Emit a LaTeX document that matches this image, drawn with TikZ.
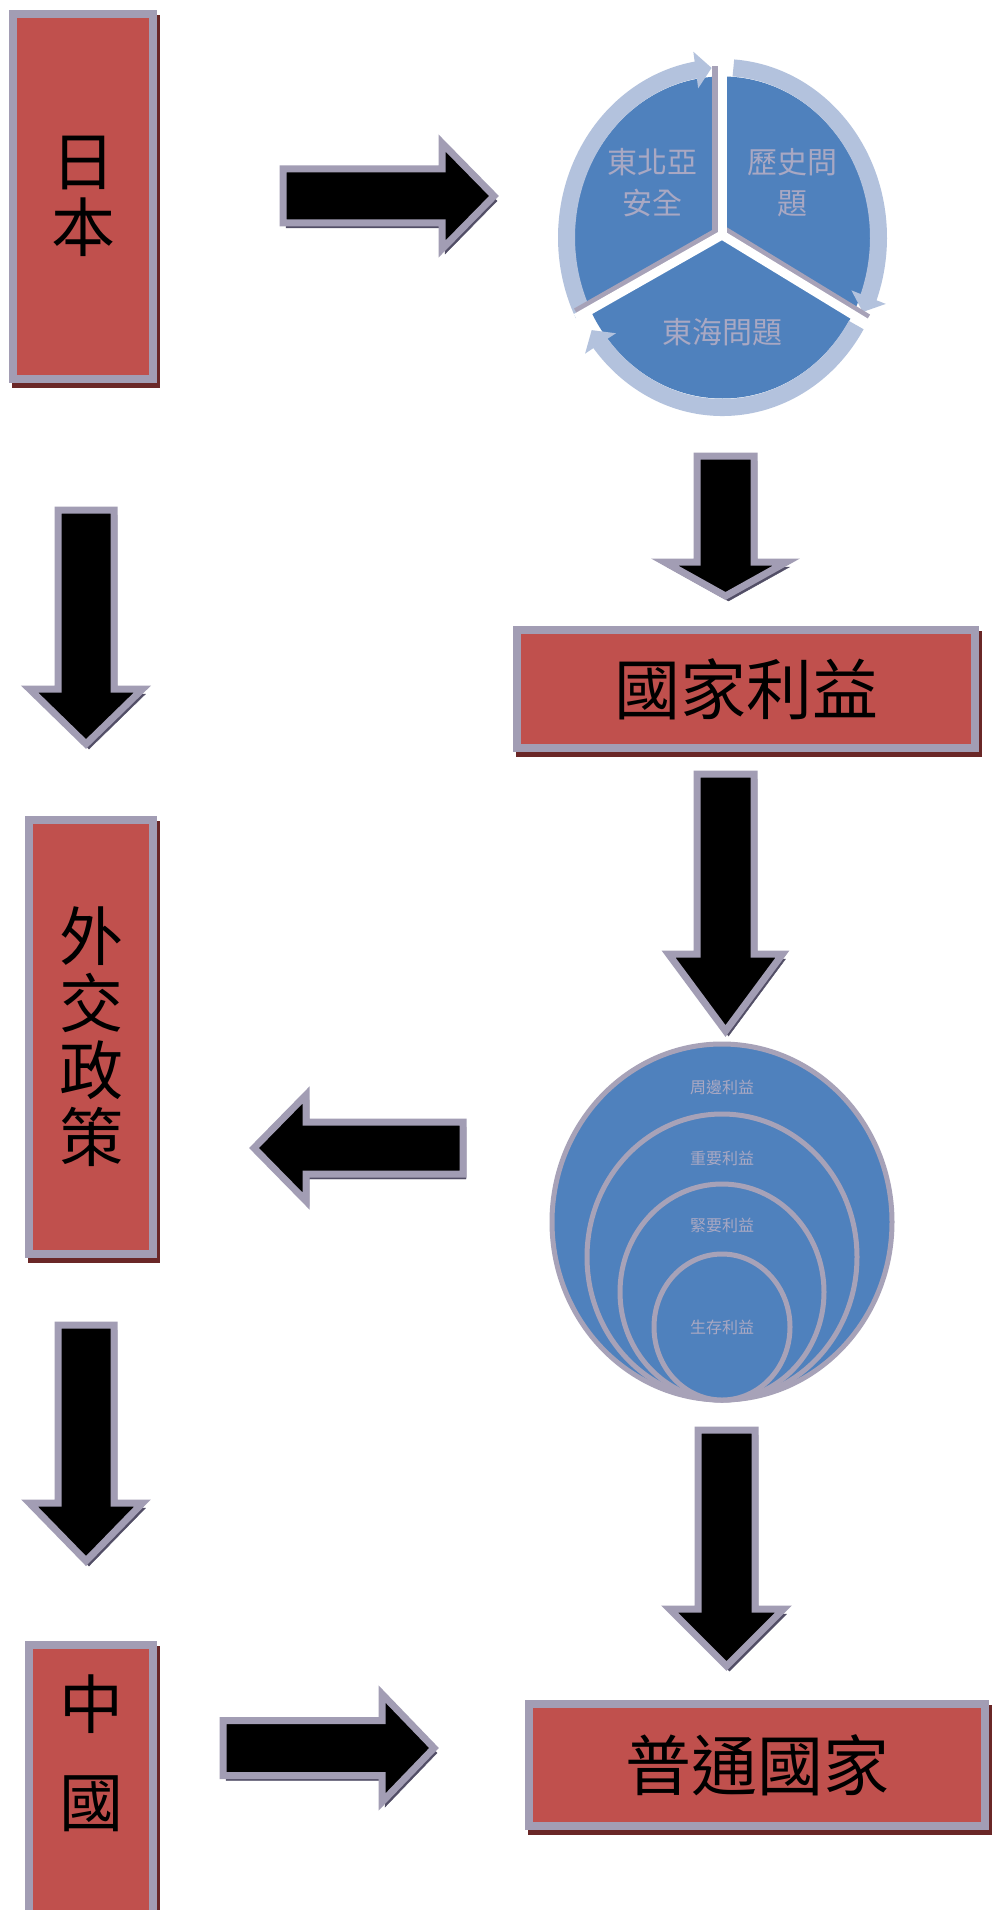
\documentclass[tikz,border=0pt]{standalone}
\usepackage{fontspec}
\newfontfamily\cjk{Noto Sans CJK TC}
\usetikzlibrary{arrows.meta,bending}
\definecolor{boxred}{HTML}{C0504D}
\definecolor{boxline}{HTML}{A29DB4}
\definecolor{redshadow}{HTML}{6A2727}
\definecolor{arrowshadow}{HTML}{524E66}
\definecolor{pieblue}{HTML}{4F81BD}
\definecolor{ringblue}{HTML}{B3C2DD}
\definecolor{pietext}{HTML}{A9A8C3}
\definecolor{divgray}{HTML}{A7A2B8}
% right-pointing block arrow: xL, xBase, xTip, yc, shaft half, head half (outer edges)
\newcommand\RArrowShape[6]{%
  \path[blockarrow] ({#1+4},{#4-#5+4}) -- ({#2+4},{#4-#5+4}) -- ({#2+4},{#4-#6+9}) -- ({#3-6},{#4})
    -- ({#2+4},{#4+#6-9}) -- ({#2+4},{#4+#5-4}) -- ({#1+4},{#4+#5-4}) -- cycle;}
\newcommand\LArrowShape[6]{%
  \path[blockarrow] ({#1-4},{#4-#5+4}) -- ({#2-4},{#4-#5+4}) -- ({#2-4},{#4-#6+9}) -- ({#3+6},{#4})
    -- ({#2-4},{#4+#6-9}) -- ({#2-4},{#4+#5-4}) -- ({#1-4},{#4+#5-4}) -- cycle;}
% down block arrow: xc, shaft half, ytop, ybase, ytip, head half
\newcommand\DArrowShape[6]{%
  \path[blockarrow] ({#1-#2+4},{#3+4}) -- ({#1+#2-4},{#3+4}) -- ({#1+#2-4},{#4+4}) -- ({#1+#6-9},{#4+4})
    -- ({#1},{#5-6}) -- ({#1-#6+9},{#4+4}) -- ({#1-#2+4},{#4+4}) -- cycle;}
\begin{document}
\begin{tikzpicture}[x=1pt,y=-1pt,
  redbox/.style={draw=boxline, fill=boxred, line width=8pt, inner sep=0pt, align=center,
    font=\cjk, text=black,
    preaction={draw=redshadow, fill=redshadow, transform canvas={xshift=3pt,yshift=-5pt}}},
  blockarrow/.style={draw=boxline, fill=black, line width=7pt, line join=miter,
    preaction={draw=arrowshadow, fill=arrowshadow, transform canvas={xshift=3pt,yshift=-5pt}}},
  ring/.style={draw=ringblue, line width=17pt, -{Triangle[width=36pt,length=16pt]}},
  pielabel/.style={font=\cjk\fontsize{30}{41}\selectfont, text=pietext, align=center, inner sep=0pt},
  circlabel/.style={font=\cjk\fontsize{16}{18}\selectfont, text=pietext, inner sep=0pt},
  level/.style={draw=divgray, fill=pieblue, line width=5pt}]
\useasboundingbox (0,0) rectangle (993,1910);
\fill[white] (0,0) rectangle (993,1910);

% ---- red boxes ----
\node[redbox, minimum width=140pt, minimum height=365pt, font=\cjk\fontsize{64}{66}\selectfont]
  (japan) at (83,196.5) {日\\本};
\node[redbox, minimum width=124pt, minimum height=434pt, font=\cjk\fontsize{64}{67}\selectfont]
  (policy) at (91,1037) {外\\交\\政\\策};
\node[redbox, minimum width=124pt, minimum height=290pt] (china) at (91,1790) {};
\node[font=\cjk\fontsize{64}{98}\selectfont, align=center, inner sep=0pt] (chinatext) at (91,1753) {中\\國};
\node[redbox, minimum width=458pt, minimum height=118pt, font=\cjk\fontsize{66}{70}\selectfont]
  (interest) at (746,689) {國家利益};
\node[redbox, minimum width=456pt, minimum height=122pt, font=\cjk\fontsize{66}{70}\selectfont]
  (normal) at (757,1765) {普通國家};

% ---- block arrows ----
\RArrowShape{279}{438}{500}{196}{31}{62}
\RArrowShape{219}{378}{440}{1748}{31.5}{63}
\LArrowShape{467}{310}{248}{1148}{30}{62}
\DArrowShape{725.5}{32.5}{452}{558}{602}{70}
\DArrowShape{725.5}{32.5}{770}{950}{1037}{66}
\DArrowShape{726.5}{32.5}{1426}{1605}{1672}{66}
\DArrowShape{86}{32}{506}{685}{750}{65.5}
\DArrowShape{86}{32}{1321}{1499}{1567}{65.5}

% ---- cycle diagram ----
\fill[pieblue] (722.5,237.5) ellipse [x radius=148, y radius=161];
\draw[ring] (722.5,237.5) ++(153:156 and 170) arc[start angle=153, end angle=266, x radius=156, y radius=170];
\draw[ring] (722.5,237.5) ++(-86:156 and 170) arc[start angle=-86, end angle=26, x radius=156, y radius=170];
\draw[ring] (722.5,237.5) ++(31:156 and 170) arc[start angle=31, end angle=147, x radius=156, y radius=170];
\coordinate (pc) at (722,235);
\coordinate (ptop) at (722,66);
\coordinate (pll) at (576,318);
\coordinate (plr) at (868,324);
\draw[divgray, line width=8pt] ([xshift=-6pt]pc) -- ([xshift=-6pt]ptop);
\draw[divgray, line width=8pt] ([yshift=6pt]pc) -- ([yshift=6pt]pll);
\draw[divgray, line width=8pt] ([yshift=6pt]pc) -- ([yshift=6pt]plr);
\draw[white, line width=9pt] (pc) -- (ptop);
\draw[white, line width=9pt] (pc) -- (pll);
\draw[white, line width=9pt] (pc) -- (plr);
\node[pielabel] (ne) at (652,183) {東北亞\\安全};
\node[pielabel] (hist) at (792,183) {歷史問\\題};
\node[pielabel] (sea) at (722,332) {東海問題};

% ---- concentric circles ----
\draw[level] (722,1222) ellipse [x radius=170, y radius=178];
\draw[level] (722,1257) ellipse [x radius=135, y radius=143];
\draw[level] (722,1292) ellipse [x radius=102, y radius=108];
\draw[level] (722,1327) ellipse [x radius=68, y radius=73];
\node[circlabel] (c1) at (722,1087) {周邊利益};
\node[circlabel] (c2) at (722,1158) {重要利益};
\node[circlabel] (c3) at (722,1225) {緊要利益};
\node[circlabel] (c4) at (722,1327) {生存利益};
\end{tikzpicture}
\end{document}
